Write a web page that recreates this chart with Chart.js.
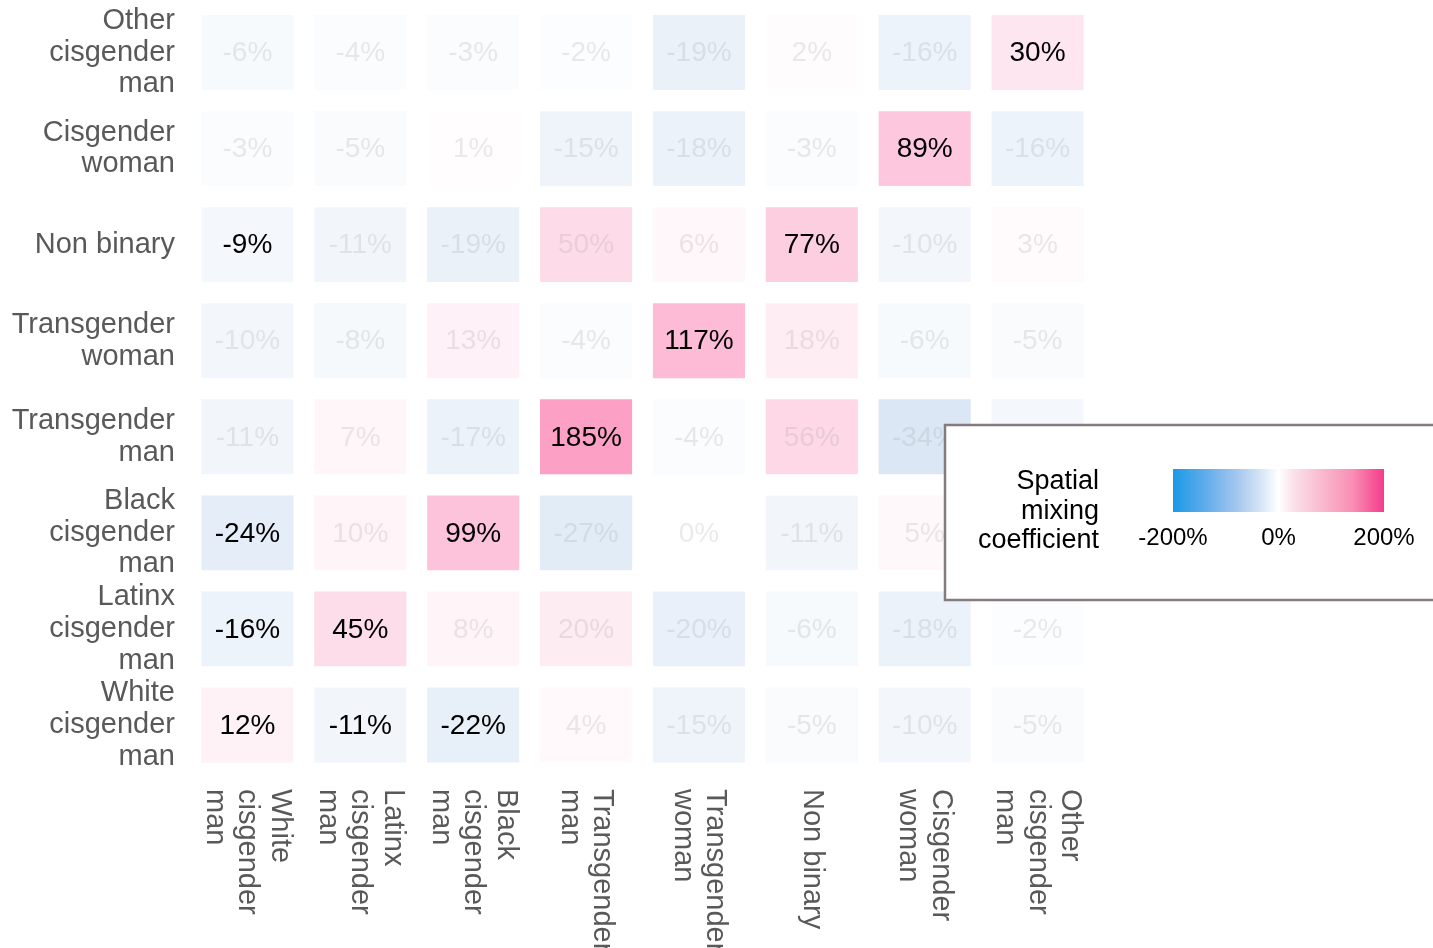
<!DOCTYPE html>
<html>
<head>
<meta charset="utf-8">
<script src="https://cdn.jsdelivr.net/npm/chart.js@4.4.1/dist/chart.umd.min.js"></script>
<style>
  html, body { margin: 0; padding: 0; background: #fff; }
  canvas { display: block; }
</style>
</head>
<body>
<canvas id="heat" width="1433" height="948"></canvas>
<script>
/* ── Data (rows top to bottom, columns left to right) ── */
const rowLabels = [
  ['Other', 'cisgender', 'man'],
  ['Cisgender', 'woman'],
  ['Non binary'],
  ['Transgender', 'woman'],
  ['Transgender', 'man'],
  ['Black', 'cisgender', 'man'],
  ['Latinx', 'cisgender', 'man'],
  ['White', 'cisgender', 'man'],
];
const colLabels = [
  ['White', 'cisgender', 'man'],
  ['Latinx', 'cisgender', 'man'],
  ['Black', 'cisgender', 'man'],
  ['Transgender', 'man'],
  ['Transgender', 'woman'],
  ['Non binary'],
  ['Cisgender', 'woman'],
  ['Other', 'cisgender', 'man'],
];
// mixing coefficient, %
const otherCisMan   = [-6, -4, -3, -2, -19, 2, -16, 30];
const cisWoman      = [-3, -5, 1, -15, -18, -3, 89, -16];
const nonBinary     = [-9, -11, -19, 50, 6, 77, -10, 3];
const transWoman    = [-10, -8, 13, -4, 117, 18, -6, -5];
const transMan      = [-11, 7, -17, 185, -4, 56, -34, -9];
const blackCisMan   = [-24, 10, 99, -27, 0, -11, 5, 4];
const latinxCisMan  = [-16, 45, 8, 20, -20, -6, -18, -2];
const whiteCisMan   = [12, -11, -22, 4, -15, -5, -10, -5];
const values = [otherCisMan, cisWoman, nonBinary, transWoman, transMan, blackCisMan, latinxCisMan, whiteCisMan];

// significant cells are labelled in black
const sigOther  = [0, 0, 0, 0, 0, 0, 0, 1];
const sigCisW   = [0, 0, 0, 0, 0, 0, 1, 0];
const sigNB     = [1, 0, 0, 0, 0, 1, 0, 0];
const sigTransW = [0, 0, 0, 0, 1, 0, 0, 0];
const sigTransM = [0, 0, 0, 1, 0, 0, 0, 0];
const sigBlack  = [1, 0, 1, 0, 0, 0, 0, 0];
const sigLatinx = [1, 1, 0, 0, 0, 0, 0, 0];
const sigWhite  = [1, 1, 1, 0, 0, 0, 0, 0];
const significant = [sigOther, sigCisW, sigNB, sigTransW, sigTransM, sigBlack, sigLatinx, sigWhite];

const legendTicks = [-200, 0, 200];

/* ── Style ── */
const FONT = "'Liberation Sans', Arial, Helvetica, sans-serif";
const AXIS_TEXT = '#595959';
const CELL_PAD = 0.11;   // vertical gap inside a row band

function cellColor(v) {
  if (v >= 0) {
    const f = 0.37 * Math.pow(v / 185, 0.73);
    return mix([247, 0, 97], f);
  }
  const f = 0.153 * Math.pow(-v / 34, 0.9);
  return mix([20, 100, 190], f);
}
function mix(c, a) {
  const r = Math.round(255 + (c[0] - 255) * a);
  const g = Math.round(255 + (c[1] - 255) * a);
  const b = Math.round(255 + (c[2] - 255) * a);
  return `rgb(${r}, ${g}, ${b})`;
}

const nRows = rowLabels.length;

const datasets = values.map((row, r) => {
  const yi = nRows - 1 - r;
  return {
    label: rowLabels[r].join(' '),
    data: row.map(() => [yi + CELL_PAD, yi + 1 - CELL_PAD]),
    backgroundColor: row.map(cellColor),
    borderWidth: 0,
    borderSkipped: false,
    grouped: false,
    categoryPercentage: 1,
    barPercentage: 0.816,
  };
});

/* ── Plugins ── */
const cellText = {
  id: 'cellText',
  afterDatasetsDraw(chart) {
    const ctx = chart.ctx;
    ctx.save();
    ctx.font = `28px ${FONT}`;
    ctx.textAlign = 'center';
    ctx.textBaseline = 'middle';
    chart.data.datasets.forEach((ds, r) => {
      chart.getDatasetMeta(r).data.forEach((el, j) => {
        const p = el.getCenterPoint();
        ctx.fillStyle = significant[r][j] ? '#000' : 'rgba(150, 150, 150, 0.2)';
        ctx.fillText(values[r][j] + '%', p.x, p.y + 1);
      });
    });
    ctx.restore();
  }
};

const colText = {
  id: 'colText',
  afterDraw(chart) {
    const ctx = chart.ctx;
    const xs = chart.scales.x;
    const top = chart.chartArea.bottom + 16;
    ctx.save();
    ctx.font = `29px ${FONT}`;
    ctx.fillStyle = AXIS_TEXT;
    ctx.textAlign = 'left';
    ctx.textBaseline = 'middle';
    colLabels.forEach((lines, j) => {
      const cx = xs.getPixelForValue(j);
      ctx.save();
      ctx.translate(cx, top);
      ctx.rotate(Math.PI / 2);
      lines.forEach((ln, i) => {
        ctx.fillText(ln, 0, (i - (lines.length - 1) / 2) * 32.5);
      });
      ctx.restore();
    });
    ctx.restore();
  }
};

const colorLegend = {
  id: 'colorLegend',
  afterDraw(chart) {
    const ctx = chart.ctx;
    ctx.save();
    // box
    ctx.fillStyle = '#fff';
    ctx.fillRect(945, 425, 500, 175);
    ctx.strokeStyle = '#857b7e';
    ctx.lineWidth = 2.5;
    ctx.strokeRect(945, 425, 500, 175);
    // title
    ctx.fillStyle = '#000';
    ctx.font = `27px ${FONT}`;
    ctx.textAlign = 'right';
    ctx.textBaseline = 'middle';
    ['Spatial', 'mixing', 'coefficient'].forEach((t, i) => ctx.fillText(t, 1099, 482 + i * 29.5));
    // gradient bar
    const x0 = 1173, x1 = 1384, y0 = 469, y1 = 512;
    const g = ctx.createLinearGradient(x0, 0, x1, 0);
    g.addColorStop(0, '#1a9ae6');
    g.addColorStop(0.15, '#5eaceb');
    g.addColorStop(0.3, '#a3c6ef');
    g.addColorStop(0.43, '#dde9f8');
    g.addColorStop(0.5, '#ffffff');
    g.addColorStop(0.57, '#fbe2ea');
    g.addColorStop(0.7, '#f9bbd0');
    g.addColorStop(0.85, '#f88fb4');
    g.addColorStop(1, '#f53b8b');
    ctx.fillStyle = g;
    ctx.fillRect(x0, y0, x1 - x0, y1 - y0);
    // ticks
    ctx.fillStyle = '#000';
    ctx.font = `24px ${FONT}`;
    ctx.textAlign = 'center';
    legendTicks.forEach(v => {
      const x = x0 + (v - legendTicks[0]) / (legendTicks[legendTicks.length - 1] - legendTicks[0]) * (x1 - x0);
      ctx.fillText(v + '%', x, 538);
    });
    ctx.restore();
  }
};

new Chart(document.getElementById('heat').getContext('2d'), {
  type: 'bar',
  data: { labels: colLabels.map(l => l.join(' ')), datasets },
  options: {
    responsive: false,
    animation: false,
    layout: { padding: { top: 4.5, right: 339, bottom: 0, left: 0 } },
    plugins: { legend: { display: false }, tooltip: { enabled: false } },
    scales: {
      x: {
        offset: true,
        grid: { display: false, drawTicks: false },
        border: { display: false },
        ticks: { display: false },
        afterFit: s => { s.height = 175; s.paddingLeft = 0; s.paddingRight = 0; },
      },
      y: {
        min: 0,
        max: nRows,
        grid: { display: false, drawTicks: false },
        border: { display: false },
        afterBuildTicks: s => { s.ticks = rowLabels.map((_, i) => ({ value: i + 0.5 })); },
        ticks: {
          autoSkip: false,
          padding: 16,
          color: AXIS_TEXT,
          font: { family: FONT, size: 29, lineHeight: 1.09 },
          callback: v => rowLabels[nRows - 1 - Math.floor(v)],
        },
        afterFit: s => { s.width = 191; s.paddingTop = 0; s.paddingBottom = 0; },
      },
    },
  },
  plugins: [cellText, colText, colorLegend],
});
</script>
</body>
</html>
